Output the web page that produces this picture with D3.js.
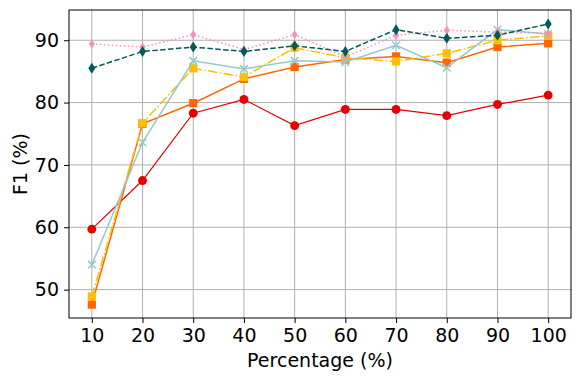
<!DOCTYPE html>
<html><head><meta charset="utf-8">
<script src="https://cdn.jsdelivr.net/npm/d3@7"></script>
<style>html,body{margin:0;padding:0;background:#fff;}svg{display:block;font-family:"DejaVu Sans",sans-serif;}</style>
</head><body>
<svg id="c" width="580" height="381"></svg>
<script>
const percentages = [10, 20, 30, 40, 50, 60, 70, 80, 90, 100];
const xTickLabels = ["10","20","30","40","50","60","70","80","90","100"];
const yTicks = [50, 60, 70, 80, 90];
const redValues    = [59.7, 67.5, 78.3, 80.5, 76.3, 78.9, 78.9, 77.9, 79.7, 81.2];
const orangeValues = [47.6, 76.6, 79.9, 83.8, 85.7, 86.9, 87.4, 86.4, 88.9, 89.5];
const yellowValues = [48.9, 76.7, 85.5, 84.1, 88.8, 87.2, 86.6, 87.9, 90.0, 90.7];
const blueValues   = [54.0, 73.6, 86.7, 85.4, 86.7, 86.5, 89.2, 85.6, 91.7, 91.0];
const pinkValues   = [89.4, 88.9, 90.9, 88.5, 90.9, 87.3, 90.8, 91.6, 91.3, 91.1];
const tealValues   = [85.5, 88.2, 88.9, 88.2, 89.1, 88.2, 91.7, 90.3, 90.8, 92.6];

const series = [
  {values: redValues,    color: "#e60000", dash: null,              width: 1.2, marker: "circle"},
  {values: orangeValues, color: "#ff6600", dash: null,              width: 1.5, marker: "square"},
  {values: yellowValues, color: "#ffc000", dash: "9.6,2.4,1.5,2.4", width: 1.5, marker: "square"},
  {values: blueValues,   color: "#96c8c8", dash: null,              width: 1.5, marker: "x"},
  {values: pinkValues,   color: "#f78fc0", dash: "1.5,2.5",         width: 1.5, marker: "thin_diamond"},
  {values: tealValues,   color: "#005a5a", dash: "5.5,2.4",         width: 1.5, marker: "diamond"}
];

const svg = d3.select("#c");
const L = 69, R = 571, T = 10, B = 318;
const FS = 19;
const x = d3.scaleLinear().domain([5.5, 104.5]).range([L, R]);
const y = d3.scaleLinear().domain([45.45, 94.85]).range([B, T]);

// grid
const g = svg.append("g");
g.selectAll(".vg").data(percentages).join("line")
  .attr("x1", d => x(d)).attr("x2", d => x(d)).attr("y1", T).attr("y2", B)
  .attr("stroke", "#b0b0b0").attr("stroke-width", 1);
g.selectAll(".hg").data(yTicks).join("line")
  .attr("x1", L).attr("x2", R).attr("y1", d => y(d)).attr("y2", d => y(d))
  .attr("stroke", "#b0b0b0").attr("stroke-width", 1);

// axes
const xAxis = d3.axisBottom(x).tickValues(percentages).tickFormat((d, i) => xTickLabels[i]).tickSize(5).tickPadding(6);
const yAxis = d3.axisLeft(y).tickValues(yTicks).tickSize(5).tickPadding(5);
const gx = svg.append("g").attr("transform", `translate(0,${B})`).call(xAxis);
const gy = svg.append("g").attr("transform", `translate(${L},0)`).call(yAxis);
[gx, gy].forEach(a => {
  a.select(".domain").remove();
  a.selectAll("line").attr("stroke", "#000").attr("stroke-width", 1);
  a.selectAll("text").attr("font-size", FS).attr("fill", "#000").attr("font-family", "DejaVu Sans");
});

const line = d3.line().x((d, i) => x(percentages[i])).y(d => y(d));
const sym = {
  circle: d3.symbol().type(d3.symbolCircle).size(62),
  square: d3.symbol().type(d3.symbolSquare).size(68)
};
series.forEach(s => {
  svg.append("path").datum(s.values).attr("d", line)
    .attr("fill", "none").attr("stroke", s.color).attr("stroke-width", s.width)
    .attr("stroke-dasharray", s.dash);
  const m = svg.append("g");
  s.values.forEach((v, i) => {
    const cx = x(percentages[i]), cy = y(v);
    if (s.marker === "circle" || s.marker === "square") {
      m.append("path").attr("d", sym[s.marker]()).attr("transform", `translate(${cx},${cy})`).attr("fill", s.color);
    } else if (s.marker === "x") {
      const r = 3.8;
      m.append("path").attr("d", `M${cx-r},${cy-r}L${cx+r},${cy+r}M${cx-r},${cy+r}L${cx+r},${cy-r}`)
        .attr("stroke", s.color).attr("stroke-width", 1.5).attr("fill", "none");
    } else if (s.marker === "diamond") {
      const w = 3.5, h = 5.5;
      m.append("path").attr("d", `M${cx},${cy-h}L${cx+w},${cy}L${cx},${cy+h}L${cx-w},${cy}Z`).attr("fill", s.color);
    } else if (s.marker === "thin_diamond") {
      const w = 3, h = 4.6;
      m.append("path").attr("d", `M${cx},${cy-h}L${cx+w},${cy}L${cx},${cy+h}L${cx-w},${cy}Z`).attr("fill", s.color);
    }
  });
});

// frame
svg.append("rect").attr("x", L).attr("y", T).attr("width", R - L).attr("height", B - T)
  .attr("fill", "none").attr("stroke", "#000").attr("stroke-width", 1);

svg.append("text").attr("x", (L + R) / 2).attr("y", 367).attr("text-anchor", "middle")
  .attr("font-size", FS).attr("font-family", "DejaVu Sans").text("Percentage (%)");
svg.append("text").attr("transform", `translate(27,${(T + B) / 2}) rotate(-90)`).attr("text-anchor", "middle")
  .attr("font-size", FS).attr("font-family", "DejaVu Sans").text("F1 (%)");
</script>
</body></html>
